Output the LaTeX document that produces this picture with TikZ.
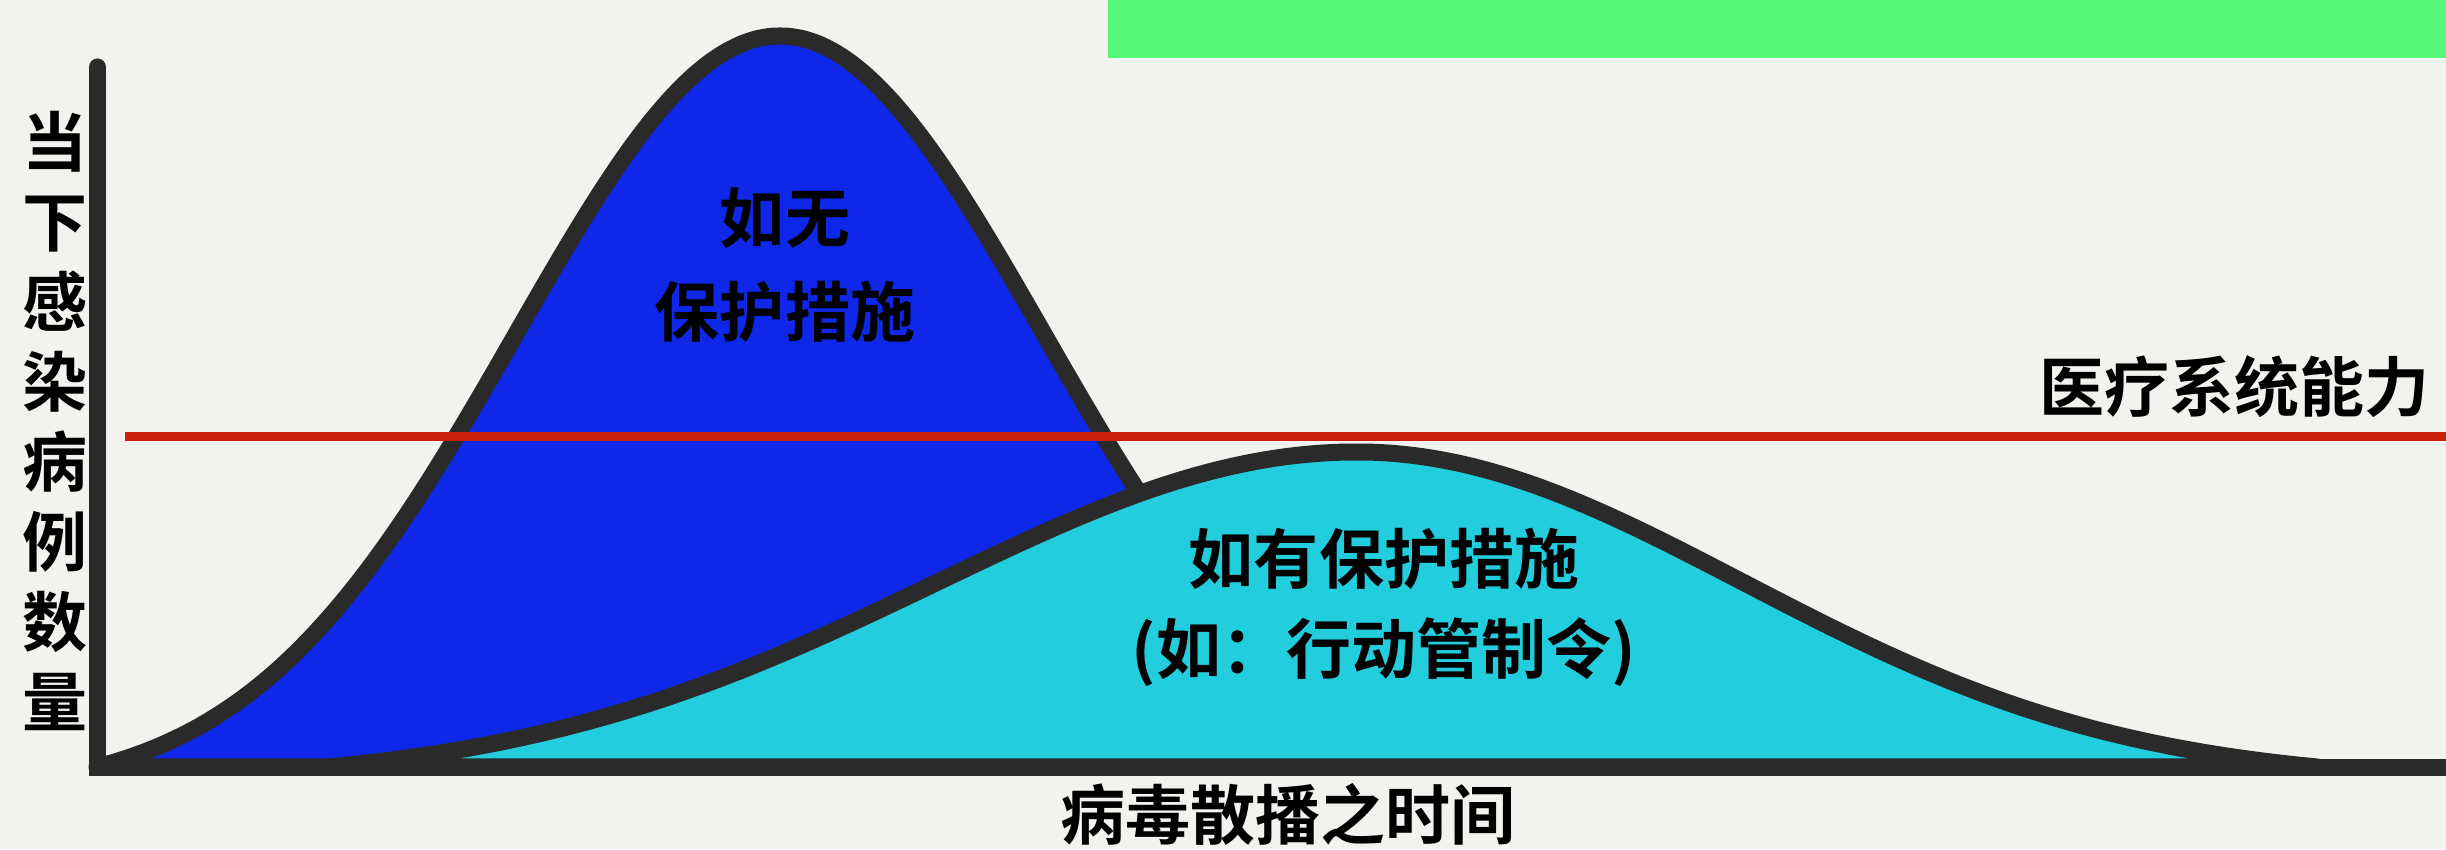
\documentclass[tikz,border=0pt]{standalone}
\usepackage{fontspec}
\newfontfamily\cjk{Noto Sans CJK SC}[BoldFont={Noto Sans CJK SC Bold}]
\definecolor{paper}{HTML}{F4F2EE}
\definecolor{ink}{HTML}{2A2A2A}
\definecolor{noprot}{HTML}{0F27E8}
\definecolor{withprot}{HTML}{22CDDD}
\definecolor{capred}{HTML}{CC200A}
\definecolor{banner}{HTML}{55F977}
\tikzset{
  >=latex,
}
\tikzstyle{axes}=[line width=0.17cm,draw=ink,line cap=round,line join=miter]
\tikzstyle{bell}=[line width=0.17cm,draw=ink,line join=round]
\tikzstyle{capacity}=[line width=0.09cm,draw=capred]
\tikzstyle{every node}=[font=\cjk\bfseries,text=black,align=center,inner sep=0pt]

\begin{document}
\begin{tikzpicture}
    \useasboundingbox (0,0) rectangle (24.46,8.49);
    \fill[paper] (0,0) rectangle (24.46,8.49);
    \fill[banner] (11.08,7.91) rectangle (24.46,8.49);
    % without measures
    \filldraw[bell,fill=noprot] plot[smooth,samples=90,domain=0.97:14.63]
    (\x,{0.82+7.31*(exp(-(\x-7.8)*(\x-7.8)/13.94)-0.0352)/0.9648}) -- cycle;
    % with measures
    \filldraw[bell,fill=withprot] plot[smooth,samples=60,domain=3.3:13.57]
    (\x,{0.82+3.15*(exp(-(\x-13.57)*(\x-13.57)/35.28)-0.050)/0.950})
    -- plot[smooth,samples=60,domain=13.57:23.17]
    (\x,{0.82+3.15*(exp(-(\x-13.57)*(\x-13.57)/29.65)-0.0446)/0.9554}) -- cycle;
    \draw[capacity] (1.25,4.12)--(24.46,4.12);
    \draw[axes] (0.975,7.82)--(0.975,0.815)--(24.6,0.815);
    \node[font=\cjk\bfseries\fontsize{18.5}{26.7}\selectfont] (noplan) at (7.85,5.84) {如无\\保护措施};
    \node[font=\cjk\bfseries\fontsize{18.5}{25.6}\selectfont] (plan) at (13.84,2.42) {如有保护措施\\(如：行动管制令)};
    \node[font=\cjk\bfseries\fontsize{18.5}{22.8}\selectfont] (ylab) at (0.55,4.28)
    {当\\下\\感\\染\\病\\例\\数\\量};
    \node[font=\cjk\bfseries\fontsize{18.5}{22}\selectfont] (xlab) at (12.88,0.35) {病毒散播之时间};
    \node[font=\cjk\bfseries\fontsize{18.5}{22}\selectfont,anchor=east] (caplab) at (24.3,4.62) {医疗系统能力};
  \end{tikzpicture}
\end{document}
